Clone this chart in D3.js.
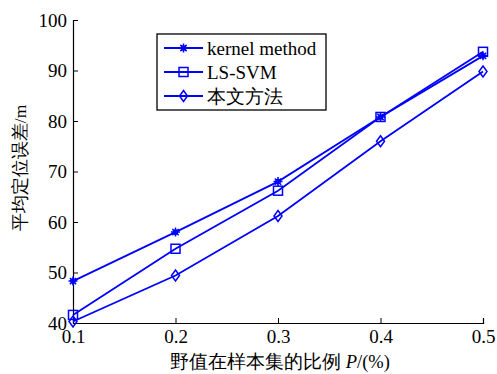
<!DOCTYPE html>
<html>
<head>
<meta charset="utf-8">
<script src="https://cdn.jsdelivr.net/npm/d3@7"></script>
<style>
  body { margin: 0; background: #fff; }
  text { font-family: "Liberation Serif", "Times New Roman", serif; }
</style>
</head>
<body>
<svg id="chart" width="497" height="374"></svg>
<script>
// data
const ratios = [0.1, 0.2, 0.3, 0.4, 0.5];
const kernelMethod = [48.3, 58.0, 68.0, 80.8, 92.9];
const lsSvm = [41.6, 54.7, 66.2, 80.8, 93.7];
const ourMethod = [40.3, 49.4, 61.2, 76.0, 89.8];
const seriesNames = ["kernel method", "LS-SVM", "本文方法"];
const xTicks = [0.1, 0.2, 0.3, 0.4, 0.5];
const yTicks = [40, 50, 60, 70, 80, 90, 100];

const blue = "#0000ff";
const svg = d3.select("#chart");

const x = d3.scaleLinear().domain([0.1, 0.5]).range([73, 483]);
const y = d3.scaleLinear().domain([40, 100]).range([323, 20]);

// axes (ticks point inward, like matlab)
const xAxis = svg.append("g")
    .attr("transform", "translate(0,323)")
    .call(d3.axisBottom(x).tickValues(xTicks).tickSize(-5).tickPadding(9).tickFormat(d3.format(".1f")));
const yAxis = svg.append("g")
    .attr("transform", "translate(73,0)")
    .call(d3.axisLeft(y).tickValues(yTicks).tickSize(-5).tickPadding(6));

[xAxis, yAxis].forEach(g => {
    g.select(".domain").attr("stroke", "#000").attr("stroke-width", 1.2);
    g.selectAll(".tick line").attr("stroke", "#000");
    g.selectAll(".tick text")
     .attr("fill", "#000")
     .style("font-family", "Liberation Serif, serif")
     .style("font-size", "19px");
});
xAxis.selectAll(".tick text").attr("dy", "0.6em");

// axis titles
svg.append("text")
    .attr("x", 280).attr("y", 368)
    .attr("text-anchor", "middle")
    .style("font-size", "18.5px")
    .html('野值在样本集的比例 <tspan font-style="italic">P</tspan>/(%)');

svg.append("text")
    .attr("transform", "translate(26,168) rotate(-90)")
    .attr("text-anchor", "middle")
    .style("font-size", "17.5px")
    .text("平均定位误差/m");

// marker helpers
function drawStar(g, cx, cy) {
    const r = 4.5;
    g.append("path")
        .attr("d", `M${cx - r},${cy}H${cx + r}M${cx},${cy - r}V${cy + r}` +
                   `M${cx - r * 0.7},${cy - r * 0.7}L${cx + r * 0.7},${cy + r * 0.7}` +
                   `M${cx - r * 0.7},${cy + r * 0.7}L${cx + r * 0.7},${cy - r * 0.7}`)
        .attr("stroke", blue).attr("stroke-width", 1.5);
    g.append("circle").attr("cx", cx).attr("cy", cy).attr("r", 2.8).attr("fill", blue);
}
function drawSquare(g, cx, cy) {
    g.append("rect")
        .attr("x", cx - 4.5).attr("y", cy - 4.5)
        .attr("width", 9).attr("height", 9)
        .attr("fill", "none").attr("stroke", blue).attr("stroke-width", 1.5);
}
function drawDiamond(g, cx, cy) {
    g.append("path")
        .attr("d", `M${cx},${cy - 5.5}L${cx + 4},${cy}L${cx},${cy + 5.5}L${cx - 4},${cy}Z`)
        .attr("fill", "none").attr("stroke", blue).attr("stroke-width", 1.5);
}

const series = [
    { name: seriesNames[0], values: kernelMethod, marker: drawStar },
    { name: seriesNames[1], values: lsSvm, marker: drawSquare },
    { name: seriesNames[2], values: ourMethod, marker: drawDiamond }
];

const line = d3.line()
    .x((d, i) => x(ratios[i]))
    .y(d => y(d));

series.forEach(s => {
    const g = svg.append("g");
    g.append("path")
        .attr("d", line(s.values))
        .attr("fill", "none")
        .attr("stroke", blue)
        .attr("stroke-width", 1.8);
    s.values.forEach((v, i) => s.marker(g, x(ratios[i]), y(v)));
});

// legend
const legend = svg.append("g");
legend.append("rect")
    .attr("x", 157).attr("y", 34)
    .attr("width", 169).attr("height", 76)
    .attr("fill", "#fff").attr("stroke", "#000").attr("stroke-width", 1.3);

series.forEach((s, i) => {
    const ly = 48 + i * 24;
    legend.append("line")
        .attr("x1", 164).attr("x2", 203)
        .attr("y1", ly).attr("y2", ly)
        .attr("stroke", blue).attr("stroke-width", 1.8);
    s.marker(legend, 183.5, ly);
    legend.append("text")
        .attr("x", 207).attr("y", ly)
        .attr("dy", "0.35em")
        .style("font-size", "19px")
        .text(s.name);
});
</script>
</body>
</html>
